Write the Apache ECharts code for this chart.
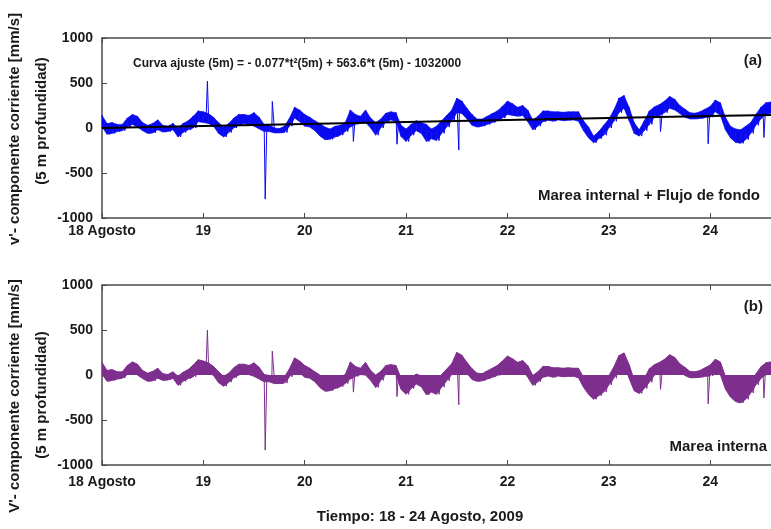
<!DOCTYPE html>
<html>
<head>
<meta charset="utf-8">
<script src="https://cdn.jsdelivr.net/npm/echarts@6/dist/echarts.min.js"></script>
<style>
  html, body { margin: 0; padding: 0; background: #fff; }
  #chart { width: 771px; height: 529px; }
</style>
</head>
<body>
<div id="chart"></div>
<script>
// muestreo cada 0.05 dias desde el 18 de agosto
const startDay = 18;
const step = 0.05;

// (a) marea interna + flujo de fondo: borde superior / inferior de la banda
const hiA = [140, 50, 60, 40, 40, 110, 150, 130, 60, 30, 50, 90, 30, 20, 50, 0, 50, 80, 130, 190,
  180, 160, 120, 60, 10, 50, 110, 150, 150, 140, 170, 120, 40, 30, 0, -5, 20, 110, 230, 200,
  150, 120, 80, 50, 10, -10, 20, 30, 60, 200, 150, 130, 200, 110, 60, 100, 165, 180, 170, 30,
  -10, 40, 80, 60, 40, -10, 20, 80, 140, 200, 330, 300, 220, 150, 100, 100, 130, 160, 190, 240,
  300, 270, 230, 250, 200, 90, 130, 190, 190, 180, 180, 175, 180, 180, 180, 80, 10, -90, -40, 30,
  100, 200, 330, 360, 230, 60, -20, 80, 190, 235, 260, 300, 350, 320, 250, 210, 170, 165, 180, 210,
  240, 310, 280, 120, 20, -10, -20, 20, 60, 150, 230, 280, 290];
const loA = [10, -70, -60, -40, -30, 10, 40, 10, -30, -60, -55, -20, -45, -40, -20, -100, -50, -20, 0, 70,
  60, 50, 20, -60, -100, -50, 0, 30, 50, 40, 20, -10, -40, -40, -55, -55, -50, 20, 110, 70,
  20, 10, -30, -90, -130, -125, -100, -80, -40, 10, 40, 60, 60, 0, -80, 0, 70, 90, 70, -95,
  -150, -80, -30, -60, -150, -120, -140, -60, 10, 80, 170, 160, 100, 30, 10, 20, 40, 60, 80, 110,
  150, 140, 130, 140, 70, -20, 20, 70, 85, 75, 90, 80, 85, 90, 75, -30, -110, -165, -120, -80,
  0, 75, 170, 220, 80, -60, -90, -30, 40, 120, 140, 170, 220, 200, 160, 120, 100, 100, 105, 115,
  120, 180, 140, -20, -110, -160, -170, -130, -60, 30, 100, 150, 165];
const spikesA = [[19.04, 520], [19.61, -790], [19.68, 295], [20.48, -150], [20.91, -180],
  [21.52, -245], [23.51, -40], [23.98, -175], [24.53, -105]];

// curva de ajuste (flujo de fondo)
const trendDays = [18, 19, 20, 21, 22, 23, 24, 24.6];
const trendVals = [0, 23, 45, 67, 89, 111, 132, 145];

// (b) marea interna
const hiB = [140, 50, 60, 35, 35, 105, 145, 120, 50, 20, 40, 75, 15, 5, 35, -15, 30, 60, 110, 170,
  155, 135, 95, 35, -15, 20, 80, 120, 120, 105, 135, 85, 5, -5, -40, -45, -20, 70, 190, 155,
  105, 75, 35, 0, -40, -60, -30, -20, 5, 145, 95, 75, 140, 50, 0, 40, 105, 115, 105, -35,
  -75, -30, 10, -10, -30, -80, -55, 5, 65, 125, 250, 220, 140, 70, 20, 15, 45, 75, 105, 155,
  210, 180, 140, 160, 105, -5, 35, 95, 95, 80, 80, 75, 80, 75, 75, -25, -95, -195, -150, -80,
  -10, 90, 215, 245, 115, -55, -135, -40, 70, 115, 140, 175, 225, 195, 125, 85, 40, 35, 50, 80,
  110, 175, 145, -15, -115, -145, -160, -120, -80, 10, 90, 135, 145];
const loB = [10, -70, -60, -45, -35, 5, 35, 0, -40, -70, -65, -35, -60, -55, -35, -115, -70, -40, -20, 50,
  35, 25, -5, -85, -125, -80, -30, 0, 20, 5, -15, -45, -75, -75, -95, -95, -90, -20, 70, 25,
  -25, -35, -75, -140, -180, -175, -150, -130, -95, -45, -15, 5, 0, -60, -140, -60, 10, 25, 5, -160,
  -215, -150, -100, -130, -220, -190, -215, -135, -65, 5, 90, 80, 20, -50, -70, -65, -45, -25, -5, 25,
  60, 50, 40, 50, -25, -115, -75, -25, -10, -25, -10, -20, -15, -15, -30, -135, -215, -270, -230, -190,
  -110, -35, 55, 105, -35, -175, -205, -150, -80, 0, 20, 45, 95, 75, 35, -5, -30, -30, -25, -15,
  -10, 45, 5, -155, -245, -295, -310, -270, -200, -110, -40, 5, 20];
const spikesB = [[19.04, 500], [19.61, -835], [19.68, 265], [20.48, -190], [20.91, -240],
  [21.52, -330], [23.51, -160], [23.98, -320], [24.53, -255]];

const dayTicks = [18, 19, 20, 21, 22, 23, 24];

const FONT = '"Liberation Sans", Arial, sans-serif';
const AXIS_COLOR = '#4a4a4a';
const TEXT_COLOR = '#1a1a1a';
const BLUE = '#0a0af0';
const PURPLE = '#7e2f8e';

const dayOf = (i) => startDay + i * step;

// zigzag between upper and lower edge, with the isolated spikes merged in
function bandData(hi, lo, spikes) {
  const pts = [];
  hi.forEach((v, i) => {
    pts.push([dayOf(i), v]);
    pts.push([dayOf(i) + step / 2, lo[i]]);
  });
  spikes.forEach((s) => pts.push(s));
  pts.sort((a, b) => a[0] - b[0]);
  return pts;
}

// one quad per sample interval: [day, lo, hi, nextDay, nextLo, nextHi]
function bandQuads(hi, lo) {
  return hi.slice(0, -1).map((v, i) => [dayOf(i), lo[i], v, dayOf(i + 1), lo[i + 1], hi[i + 1]]);
}

function renderQuad(color) {
  return (params, api) => ({
    type: 'polygon',
    shape: {
      points: [
        api.coord([api.value(0), api.value(2)]),
        api.coord([api.value(3), api.value(5)]),
        api.coord([api.value(3), api.value(4)]),
        api.coord([api.value(0), api.value(1)]),
      ],
    },
    style: { fill: color, stroke: color, lineWidth: 0.6 },
  });
}

function xAxisFor(gridIndex, position, margin) {
  const bottom = position === 'bottom';
  return {
    type: 'value',
    gridIndex,
    position,
    min: 18,
    max: 24.6,
    interval: 1,
    axisLine: { show: true, onZero: false, lineStyle: { color: AXIS_COLOR, width: 1.5 } },
    axisTick: { show: true, inside: true, length: 5, lineStyle: { color: AXIS_COLOR } },
    axisLabel: {
      show: bottom,
      margin,
      showMaxLabel: false,
      fontSize: 14,
      fontWeight: 'bold',
      fontFamily: FONT,
      color: TEXT_COLOR,
      formatter: (v) => (dayTicks.includes(v) ? (v === 18 ? '18 Agosto' : String(v)) : ''),
    },
    splitLine: { show: false },
  };
}

function yAxisFor(gridIndex) {
  return {
    type: 'value',
    gridIndex,
    min: -1000,
    max: 1000,
    interval: 500,
    axisLine: { show: true, onZero: false, lineStyle: { color: AXIS_COLOR, width: 1.5 } },
    axisTick: { show: true, inside: true, length: 5, lineStyle: { color: AXIS_COLOR } },
    axisLabel: {
      margin: 9,
      fontSize: 14,
      fontWeight: 'bold',
      fontFamily: FONT,
      color: TEXT_COLOR,
      formatter: (v) => String(v),
    },
    splitLine: { show: false },
  };
}

function label(text, x, y, size, align, rotate) {
  return {
    type: 'text',
    x,
    y,
    rotation: rotate ? Math.PI / 2 : 0,
    style: {
      text,
      font: `bold ${size}px ${FONT}`,
      fill: TEXT_COLOR,
      align,
      verticalAlign: 'middle',
      textAlign: align,
      textVerticalAlign: 'middle',
    },
  };
}

const plain = { type: 'line', showSymbol: false, silent: true };

const chart = echarts.init(document.getElementById('chart'), null, { renderer: 'canvas' });

chart.setOption({
  animation: false,
  backgroundColor: '#fff',
  grid: [
    { left: 102, top: 38, height: 180, right: -2 },
    { left: 102, top: 285, height: 180, right: -2 },
  ],
  xAxis: [
    xAxisFor(0, 'bottom', 6),
    xAxisFor(0, 'top', 0),
    xAxisFor(1, 'bottom', 10),
    xAxisFor(1, 'top', 0),
  ],
  yAxis: [yAxisFor(0), yAxisFor(1)],
  series: [
    // (a) band filled between lower and upper edge
    {
      type: 'custom', xAxisIndex: 0, yAxisIndex: 0, silent: true,
      encode: { x: [0, 3], y: [1, 2, 4, 5] },
      data: bandQuads(hiA, loA),
      renderItem: renderQuad(BLUE),
    },
    {
      ...plain, xAxisIndex: 0, yAxisIndex: 0,
      data: bandData(hiA, loA, spikesA),
      lineStyle: { color: BLUE, width: 1 },
    },
    {
      ...plain, xAxisIndex: 0, yAxisIndex: 0,
      data: trendDays.map((d, i) => [d, trendVals[i]]),
      lineStyle: { color: '#000', width: 2 },
    },
    // (b) filled from zero to the signal
    {
      ...plain, xAxisIndex: 2, yAxisIndex: 1,
      data: hiB.map((v, i) => [dayOf(i), v]),
      lineStyle: { color: PURPLE, width: 1 },
      areaStyle: { color: PURPLE, opacity: 1, origin: 0 },
    },
    {
      ...plain, xAxisIndex: 2, yAxisIndex: 1,
      data: loB.map((v, i) => [dayOf(i), v]),
      lineStyle: { color: PURPLE, width: 1 },
      areaStyle: { color: PURPLE, opacity: 1, origin: 0 },
    },
    {
      ...plain, xAxisIndex: 2, yAxisIndex: 1,
      data: bandData(hiB, loB, spikesB),
      lineStyle: { color: PURPLE, width: 1 },
    },
  ],
  graphic: [
    label("v'- componente corriente [mm/s]", 15, 129, 15, 'center', true),
    label('(5 m profundidad)', 42, 121, 15, 'center', true),
    label("V'- componente corriente [mm/s]", 15, 396, 15, 'center', true),
    label('(5 m profundidad)', 42, 395, 15, 'center', true),
    label('Curva ajuste (5m) = - 0.077*t²(5m) + 563.6*t (5m) - 1032000', 133, 64, 12, 'left', false),
    label('(a)', 762, 61, 15, 'right', false),
    label('Marea internal + Flujo de fondo', 760, 196, 15, 'right', false),
    label('(b)', 763, 307, 15, 'right', false),
    label('Marea interna', 767, 447, 15, 'right', false),
    label('Tiempo: 18 - 24 Agosto, 2009', 420, 517, 15, 'center', false),
  ],
});
</script>
</body>
</html>
